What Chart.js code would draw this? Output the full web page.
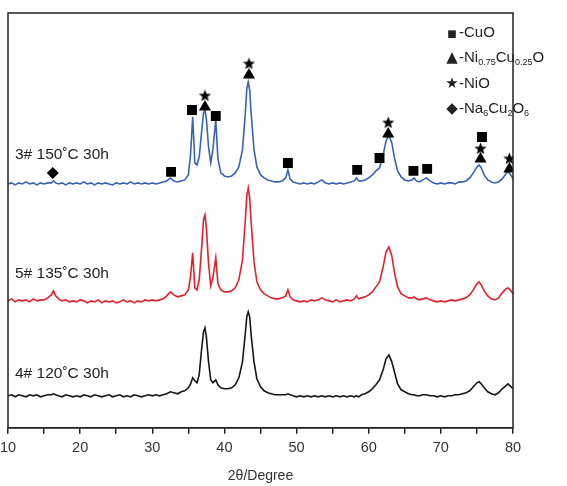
<!DOCTYPE html>
<html>
<head>
<meta charset="utf-8">
<script src="https://cdn.jsdelivr.net/npm/chart.js@4.4.0/dist/chart.umd.min.js"></script>
<style>
  body { margin: 0; background: #fff; }
  #wrap { position: relative; width: 567px; height: 486px; font-family: "Liberation Sans", Arial, sans-serif; color: #222; }
  .sample { position: absolute; left: 15px; font-size: 15.5px; line-height: 16px; white-space: nowrap; }
  #legend { position: absolute; left: 445px; top: 22px; font-size: 15px; }
  .row { height: 25.3px; line-height: 20px; white-space: nowrap; }
  .sym { display: inline-block; width: 14px; text-align: center; font-family: "DejaVu Sans", sans-serif; }
  sub { font-size: 9px; vertical-align: -3px; line-height: 0; }
</style>
</head>
<body>
<div id="wrap">
  <canvas id="xrd" width="567" height="486"></canvas>
  <div class="sample" style="top:146px">3# 150˚C 30h</div>
  <div class="sample" style="top:265px">5# 135˚C 30h</div>
  <div class="sample" style="top:365px">4# 120˚C 30h</div>
  <div id="legend">
    <div class="row"><span class="sym" style="font-size:10px">■</span>-CuO</div>
    <div class="row"><span class="sym" style="font-size:15px">▲</span>-Ni<sub>0.75</sub>Cu<sub>0.25</sub>O</div>
    <div class="row"><span class="sym" style="font-size:15px">★</span>-NiO</div>
    <div class="row"><span class="sym" style="font-size:15px">◆</span>-Na<sub>6</sub>Cu<sub>2</sub>O<sub>6</sub></div>
  </div>
</div>
<script>
// 2-theta positions shared by the three patterns
const twoTheta = [
  10, 10.5, 11, 11.5, 12, 12.5, 13, 13.5, 14, 14.5,
  15, 15.5, 16, 16.3, 16.6, 17, 17.5, 18, 18.5, 19,
  19.5, 20, 20.5, 21, 21.5, 22, 22.5, 23, 23.5, 24,
  24.5, 25, 25.5, 26, 26.5, 27, 27.5, 28, 28.5, 29,
  29.5, 30, 30.5, 31, 31.5, 32, 32.5, 33, 33.5, 34,
  34.5, 35, 35.3, 35.6, 35.9, 36.2, 36.5, 36.8, 37.1, 37.3,
  37.5, 37.8, 38.1, 38.4, 38.8, 39.1, 39.5, 40, 40.5, 41,
  41.5, 42, 42.5, 42.9, 43.1, 43.3, 43.5, 43.7, 44.1, 44.5,
  45, 45.5, 46, 46.5, 47, 47.5, 48, 48.5, 48.8, 49.1,
  49.5, 50, 50.5, 51, 51.5, 52, 52.5, 53, 53.5, 54,
  54.5, 55, 55.5, 56, 56.5, 57, 57.5, 58, 58.3, 58.6,
  59, 59.5, 60, 60.5, 61, 61.5, 62, 62.4, 62.8, 63.2,
  63.6, 64, 64.5, 65, 65.5, 66, 66.3, 66.6, 67, 67.5,
  68, 68.5, 69, 69.5, 70, 70.5, 71, 71.5, 72, 72.5,
  73, 73.5, 74, 74.5, 75, 75.3, 75.6, 76, 76.5, 77,
  77.5, 78, 78.5, 79, 79.3, 79.6, 80
];

// Intensities (a.u.) above each pattern's own baseline
const sample150 = [
  1, 2, 0, 2, 1, 3, 1, 2, 0, 2,
  1, 2, 2, 4, 2, 1, 2, 0, 2, 1,
  2, 1, 3, 1, 2, 0, 2, 1, 2, 1,
  0, 2, 1, 2, 1, 3, 1, 2, 1, 2,
  1, 2, 1, 2, 3, 4, 7, 4, 3, 4,
  5, 10, 30, 68, 22, 20, 28, 50, 72, 75,
  66, 38, 22, 35, 65, 26, 12, 9, 8, 9,
  12, 18, 35, 72, 96, 103, 95, 72, 35, 18,
  10, 7, 5, 4, 3, 3, 4, 7, 15, 6,
  3, 2, 1, 2, 1, 2, 1, 3, 5, 2,
  1, 2, 1, 2, 1, 2, 3, 4, 7, 4,
  4, 5, 7, 10, 14, 17, 30, 44, 50, 42,
  26, 14, 8, 5, 4, 5, 7, 4, 3, 5,
  7, 4, 2, 1, 2, 1, 2, 2, 1, 3,
  3, 4, 7, 12, 18, 20, 17, 10, 5, 3,
  2, 3, 6, 11, 13, 11, 6
];
const sample135 = [
  1, 3, 0, 2, 1, 2, 0, 3, 1, 2,
  2, 4, 7, 11, 6, 3, 1, 2, 0, 1,
  0, 2, 1, -1, 1, 0, 2, -1, 1, 0,
  1, -1, 0, 2, 0, 1, -1, 1, 0, 2,
  1, 2, 1, 2, 3, 6, 10, 7, 5, 6,
  7, 12, 25, 49, 14, 12, 22, 50, 82, 87,
  74, 38, 16, 24, 44, 18, 12, 10, 10, 11,
  14, 22, 42, 82, 106, 114, 104, 80, 40, 20,
  12, 8, 6, 4, 3, 3, 4, 6, 12, 5,
  2, 1, 0, 1, 0, 2, 1, 2, 4, 2,
  1, 0, 2, 0, 1, 2, 1, 3, 6, 3,
  4, 5, 7, 10, 15, 20, 35, 50, 55, 46,
  28, 15, 8, 6, 4, 4, 5, 3, 2, 3,
  4, 2, 1, 0, 1, 0, 1, 2, 1, 2,
  3, 4, 7, 12, 18, 20, 17, 11, 6, 3,
  2, 4, 9, 13, 14, 12, 8
];
const sample120 = [
  1, 2, 0, 2, 1, 0, 2, 1, 2, 0,
  1, 2, 2, 3, 2, 1, 0, 2, 1, 0,
  1, 0, 2, 1, 0, 2, 1, 0, 1, 2,
  0, 1, 2, 0, 1, 0, 2, 1, 0, 1,
  2, 1, 2, 1, 2, 3, 5, 4, 3, 5,
  6, 9, 13, 19, 16, 14, 22, 45, 65, 69,
  60, 35, 17, 14, 17, 12, 9, 8, 8, 9,
  12, 19, 35, 64, 80, 85, 80, 62, 35, 18,
  10, 6, 4, 3, 2, 2, 2, 2, 3, 2,
  1, 0, 1, 0, 1, 0, 1, 0, 1, 0,
  1, 0, 1, 0, 1, 0, 1, 0, 1, 0,
  2, 3, 5, 8, 12, 17, 27, 38, 42, 35,
  24, 13, 7, 5, 3, 2, 2, 1, 1, 2,
  2, 1, 1, 0, 1, 0, 1, 1, 2, 2,
  3, 4, 6, 10, 14, 15, 13, 9, 5, 3,
  2, 4, 8, 11, 13, 11, 8
];

// Phase marks above the 150 C pattern: [2theta, intensity]
const cuoMarks = [[32.6, 256], [35.5, 318], [38.8, 312], [48.8, 265], [58.4, 258], [61.5, 270], [66.2, 257], [68.1, 259], [75.7, 291]];
const niCuOMarks = [[37.3, 321], [43.4, 353], [62.7, 294], [75.5, 269], [79.5, 259]];
const nioMarks = [[37.3, 333], [43.4, 365], [62.7, 306], [75.5, 280], [79.5, 270]];
const naCuOMarks = [[16.2, 255]];

const xTicks = [10, 20, 30, 40, 50, 60, 70, 80];

// vertical stacking offsets
const offsets = { s150: 243, s135: 126, s120: 31 };

function toPoints(vals, off) {
    return twoTheta.map((t, i) => ({ x: t, y: vals[i] + off }));
}
function toMarks(list) {
    return list.map(p => ({ x: p[0], y: p[1] }));
}

// filled five point star for the NiO marks
function makeStar(size) {
    const c = document.createElement('canvas');
    c.width = size; c.height = size;
    const g = c.getContext('2d');
    const R = size / 2, r = R * 0.42;
    g.beginPath();
    for (let i = 0; i < 10; i++) {
        const rad = i % 2 ? r : R;
        const a = -Math.PI / 2 + i * Math.PI / 5;
        g.lineTo(R + rad * Math.cos(a), R + 1 + rad * Math.sin(a));
    }
    g.closePath();
    g.fillStyle = '#000';
    g.fill();
    return c;
}

function markSet(list, style, radius) {
    return {
        type: 'scatter', data: toMarks(list), pointStyle: style, pointRadius: radius,
        backgroundColor: '#000', borderColor: '#000', borderWidth: 0, clip: 0
    };
}

function lineSet(vals, off, color) {
    return {
        type: 'line', data: toPoints(vals, off), borderColor: color, borderWidth: 1.6,
        pointRadius: 0, tension: 0, fill: false
    };
}

// draws the closed frame around the plot
const frame = {
    id: 'frame',
    afterDraw(chart) {
        const { ctx, chartArea: a } = chart;
        ctx.save();
        ctx.strokeStyle = '#222';
        ctx.lineWidth = 1.5;
        ctx.strokeRect(a.left, a.top, a.right - a.left, a.bottom - a.top);
        ctx.restore();
    }
};

new Chart(document.getElementById('xrd'), {
    data: {
        datasets: [
            markSet(cuoMarks, 'rect', 7),
            markSet(niCuOMarks, 'triangle', 7),
            markSet(nioMarks, makeStar(13), 7),
            markSet(naCuOMarks, 'rectRot', 6),
            lineSet(sample150, offsets.s150, '#3563b5'),
            lineSet(sample135, offsets.s135, '#e3202c'),
            lineSet(sample120, offsets.s120, '#161616')
        ]
    },
    options: {
        responsive: false,
        animation: false,
        layout: { padding: { left: 0, right: 54, top: 13, bottom: 1 } },
        plugins: { legend: { display: false }, tooltip: { enabled: false } },
        scales: {
            x: {
                type: 'linear', min: 10, max: 80,
                // let the "10" label hang over the left edge like the original
                afterFit: s => { s.paddingLeft = 8; },
                border: { color: '#222', width: 1.5 },
                grid: { drawOnChartArea: false, tickLength: 6, color: '#222', lineWidth: 1.5 },
                ticks: {
                    stepSize: 5, autoSkip: false, maxRotation: 0, padding: 5,
                    color: '#333', font: { family: 'Liberation Sans', size: 14.5 },
                    callback: v => xTicks.includes(v) ? v : ''
                },
                title: {
                    display: true, text: '2θ/Degree', color: '#333',
                    font: { family: 'Liberation Sans', size: 14 }, padding: { top: 7, bottom: 0 }
                }
            },
            y: { display: false, min: 0, max: 415 }
        }
    },
    plugins: [frame]
});
</script>
</body>
</html>
